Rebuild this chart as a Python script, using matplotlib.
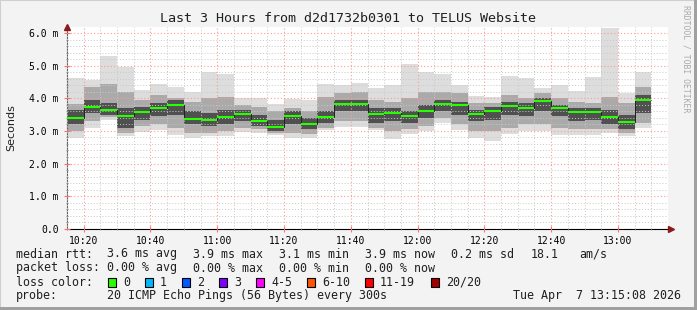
import numpy as np
import matplotlib
matplotlib.use("Agg")
import matplotlib.pyplot as plt
from matplotlib.patches import Rectangle

# 35 five-minute steps, minutes after 10:00 (bar start)
start_min = [15 + 5 * i for i in range(35)]

# smoke data in ms
ping_max = [4.63, 4.55, 5.30, 4.97, 4.26, 4.44, 4.36, 4.18, 4.82, 4.76, 4.01, 4.01,
            3.84, 3.97, 3.94, 4.44, 4.42, 4.47, 4.32, 4.42, 5.06, 4.81, 4.75, 4.42,
            4.07, 4.04, 4.68, 4.63, 4.32, 4.40, 4.24, 4.65, 6.16, 4.17, 4.81]
hi_outer = [3.82, 4.35, 4.45, 4.20, 3.95, 4.10, 4.00, 3.90, 4.00, 4.05, 3.80, 3.75,
            3.60, 3.70, 3.60, 4.05, 4.15, 4.20, 3.95, 3.90, 4.00, 4.20, 4.20, 4.15,
            3.85, 3.85, 4.10, 4.00, 4.15, 4.00, 3.90, 3.85, 4.05, 3.85, 4.35]
hi_inner = [3.65, 3.95, 3.85, 3.70, 3.75, 3.85, 3.95, 3.60, 3.55, 3.65, 3.65, 3.50,
            3.35, 3.60, 3.40, 3.60, 3.95, 3.95, 3.70, 3.70, 3.60, 3.80, 3.95, 3.90,
            3.65, 3.75, 3.90, 3.85, 4.00, 3.80, 3.70, 3.70, 3.65, 3.50, 4.10]
median = [3.40, 3.75, 3.65, 3.47, 3.58, 3.69, 3.81, 3.38, 3.34, 3.42, 3.52, 3.32,
          3.13, 3.46, 3.21, 3.43, 3.83, 3.83, 3.52, 3.55, 3.46, 3.62, 3.83, 3.79,
          3.52, 3.62, 3.77, 3.69, 3.91, 3.69, 3.58, 3.58, 3.44, 3.28, 3.96]
lo_inner = [3.20, 3.55, 3.50, 3.10, 3.35, 3.45, 3.50, 3.20, 3.15, 3.20, 3.30, 3.15,
            3.00, 3.20, 3.05, 3.25, 3.60, 3.60, 3.25, 3.30, 3.25, 3.40, 3.60, 3.50,
            3.30, 3.35, 3.50, 3.45, 3.60, 3.45, 3.30, 3.35, 3.20, 3.05, 3.55]
lo_outer = [3.00, 3.30, 3.42, 2.95, 3.15, 3.20, 3.10, 2.95, 2.95, 3.00, 3.10, 3.05,
            2.95, 2.95, 2.90, 3.10, 3.30, 3.30, 3.10, 3.00, 3.05, 3.15, 3.40, 3.20,
            3.00, 3.00, 3.10, 3.20, 3.20, 3.10, 3.05, 3.05, 3.05, 2.95, 3.25]
ping_min = [2.78, 3.08, 3.33, 2.83, 2.98, 3.03, 2.88, 2.78, 2.83, 2.83, 2.98, 2.94,
            2.88, 2.78, 2.78, 3.03, 3.13, 3.13, 3.03, 2.75, 2.91, 3.01, 3.24, 3.03,
            2.78, 2.70, 2.91, 3.01, 3.01, 2.88, 2.88, 2.88, 2.94, 2.85, 3.09]

tick_min = [20, 40, 60, 80, 100, 120, 140, 160, 180]
tick_lbl = ["10:20", "10:40", "11:00", "11:20", "11:40", "12:00", "12:20", "12:40", "13:00"]
ytick_val = [0, 1, 2, 3, 4, 5, 6]
ytick_lbl = ["0.0", "1.0 m", "2.0 m", "3.0 m", "4.0 m", "5.0 m", "6.0 m"]

loss_lbl = ["0", "1", "2", "3", "4-5", "6-10", "11-19", "20/20"]
loss_col = ["#26ff00", "#00b8ff", "#0059ff", "#7e00ff", "#ff00ff", "#ff5500", "#ff0000", "#a10000"]

W, H = 697, 310
mono = "DejaVu Sans Mono"

fig = plt.figure(figsize=(W / 100, H / 100), dpi=100, facecolor="#f3f3f3")

def px(x, y):
    return x / W, 1 - y / H

# frame
fig.patches.append(Rectangle((0, 0), 1, 1, transform=fig.transFigure, fill=False,
                             edgecolor="#cfcfcf", lw=1.5))
fig.patches.append(Rectangle((1 - 3 / W, 0), 3 / W, 1, transform=fig.transFigure,
                             color="#a0a0a0", lw=0))
fig.patches.append(Rectangle((0, 0), 1, 3 / H, transform=fig.transFigure,
                             color="#a0a0a0", lw=0))

ax = fig.add_axes([67 / W, 1 - 228.7 / H, 601 / W, (228.7 - 27) / H])
ax.set_facecolor("white")

edges = np.array(start_min + [start_min[-1] + 5])
x = np.array(start_min)
ax.bar(x, np.array(ping_max) - np.array(ping_min), bottom=ping_min, width=5,
       align="edge", color="#dddddd", lw=0, zorder=1)
ax.bar(x, np.array(hi_outer) - np.array(lo_outer), bottom=lo_outer, width=5,
       align="edge", color="#aaaaaa", lw=0, zorder=1.1)
ax.bar(x, np.array(hi_inner) - np.array(lo_inner), bottom=lo_inner, width=5,
       align="edge", color="#505050", lw=0, zorder=1.2)
ax.stairs(median, edges, color="#202020", lw=0.7, baseline=None, zorder=3)
ax.hlines(median, x, x + 5, colors="#26ff00", lw=1.5, zorder=4)

ax.set_xlim(15, 195)
ax.set_ylim(0, 6.19)
ax.set_xticks(tick_min)
ax.set_xticklabels(tick_lbl, fontfamily=mono, fontsize=7)
ax.set_xticks(np.arange(15, 195, 5), minor=True)
ax.set_yticks(ytick_val)
ax.set_yticklabels(ytick_lbl, fontfamily=mono, fontsize=7)
ax.set_yticks(np.arange(0, 6.2, 0.2), minor=True)

ax.grid(which="minor", color="#c8c8c8", linestyle=(0, (1, 2)), lw=0.7)
ax.grid(which="major", color="#ff9a9a", linestyle=(0, (1, 2)), lw=0.8)
ax.set_axisbelow(False)

ax.tick_params(axis="both", which="both", direction="inout", color="#888888")
ax.tick_params(axis="x", which="major", length=4, pad=3, color="#ff7070")
ax.tick_params(axis="x", which="minor", length=2)
ax.tick_params(axis="y", which="major", length=4, pad=4, color="#ff7070")
ax.tick_params(axis="y", which="minor", length=2)

for s in ["top", "right"]:
    ax.spines[s].set_visible(False)
ax.spines["left"].set_color("#606060")
ax.spines["bottom"].set_color("black")
ax.spines["left"].set_linewidth(0.8)
ax.spines["bottom"].set_linewidth(0.8)

# axis arrows
ax.plot([0], [1.0], marker="^", color="#8b1a1a", ms=5, transform=ax.transAxes, clip_on=False, zorder=6)
ax.plot([1.005], [0], marker=">", color="#8b1a1a", ms=5, transform=ax.transAxes, clip_on=False, zorder=6)

fig.text(*px(348, 19), "Last 3 Hours from d2d1732b0301 to TELUS Website",
         fontfamily=mono, fontsize=9.6, ha="center", va="center", color="#202020")
fig.text(*px(11, 128), "Seconds", rotation=90, fontsize=8, ha="center", va="center",
         color="#202020")
fig.text(*px(686, 5), "RRDTOOL / TOBI OETIKER", rotation=270, fontfamily=mono,
         fontsize=5.9, ha="center", va="top", color="#aaaaaa")

fs = 8.4
rows = [
    (254, [(16, "median rtt:"), (107, "3.6 ms avg"), (193, "3.9 ms max"), (279, "3.1 ms min"),
           (365, "3.9 ms now"), (451, "0.2 ms sd"), (531, "18.1"), (579, "am/s")]),
    (268, [(16, "packet loss:"), (107, "0.00 % avg"), (193, "0.00 % max"), (279, "0.00 % min"),
           (365, "0.00 % now")]),
    (282, [(16, "loss color:")]),
    (296, [(16, "probe:"), (107, "20 ICMP Echo Pings (56 Bytes) every 300s"),
           (513, "Tue Apr  7 13:15:08 2026")]),
]
for y, items in rows:
    for xx, t in items:
        fig.text(*px(xx, y), t, fontfamily=mono, fontsize=fs, ha="left", va="center",
                 color="#202020")

box_x = [108, 145, 182, 219, 256, 307, 365, 431]
for bx, lbl, c in zip(box_x, loss_lbl, loss_col):
    fig.patches.append(Rectangle((bx / W, 1 - 287 / H), 8 / W, 9 / H, transform=fig.transFigure,
                                 facecolor=c, edgecolor="black", lw=0.8))
    fig.text(*px(bx + 15, 282), lbl, fontfamily=mono, fontsize=fs, ha="left", va="center",
             color="#202020")

fig.savefig("out.png", dpi=100, facecolor=fig.get_facecolor())
